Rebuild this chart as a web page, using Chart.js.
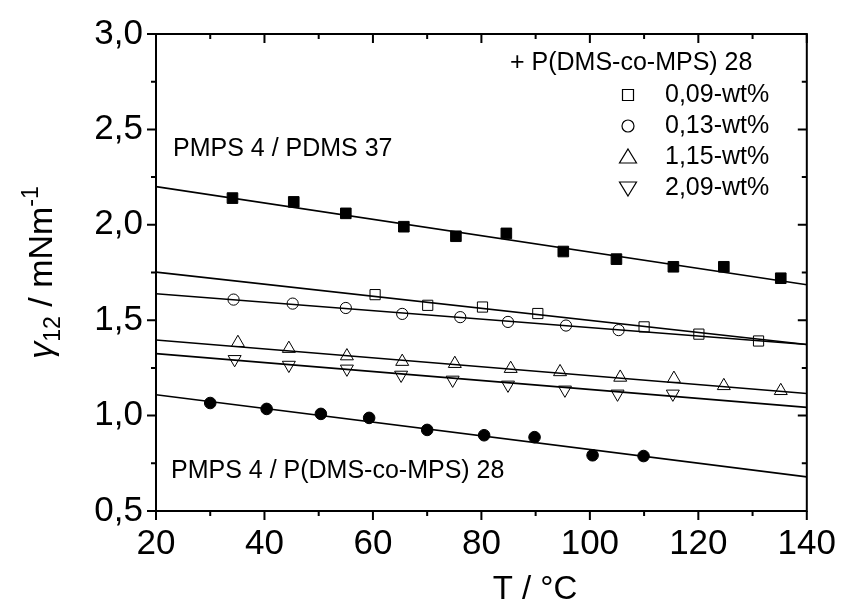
<!DOCTYPE html>
<html>
<head>
<meta charset="utf-8">
<script src="https://cdn.jsdelivr.net/npm/chart.js@4.4.0/dist/chart.umd.min.js"></script>
<style>
  html, body { margin: 0; padding: 0; background: #fff; }
  #caixa { width: 848px; height: 604px; }
</style>
</head>
<body>
<div id="caixa"><canvas id="grafico" width="848" height="604"></canvas></div>
<script>
// PMPS 4 / PDMS 37 (quadrados cheios)
const tempPdms37 = [34.1, 45.4, 55.0, 65.7, 75.3, 84.6, 95.1, 104.9, 115.4, 124.7, 135.2];
const gamaPdms37 = [2.14, 2.12, 2.06, 1.99, 1.94, 1.955, 1.86, 1.82, 1.78, 1.78, 1.72];

// + P(DMS-co-MPS) 28, 0,09-wt%
const temp009 = [60.4, 70.1, 80.2, 90.4, 110.0, 120.1, 131.1];
const gama009 = [1.634, 1.578, 1.569, 1.535, 1.465, 1.427, 1.391];

// 0,13-wt%
const temp013 = [34.3, 45.2, 55.0, 65.4, 76.1, 84.9, 95.6, 105.3];
const gama013 = [1.608, 1.587, 1.564, 1.533, 1.516, 1.491, 1.472, 1.448];

// 1,15-wt%
const temp115 = [35.1, 44.5, 55.2, 65.4, 75.1, 85.4, 94.5, 105.6, 115.5, 124.7, 135.2];
const gama115 = [1.382, 1.351, 1.312, 1.283, 1.272, 1.246, 1.229, 1.200, 1.194, 1.156, 1.130];

// 2,09-wt%
const temp209 = [34.5, 44.5, 55.2, 65.2, 74.7, 84.9, 95.4, 105.1, 115.3];
const gama209 = [1.295, 1.265, 1.245, 1.213, 1.187, 1.161, 1.135, 1.114, 1.114];

// PMPS 4 / P(DMS-co-MPS) 28 (círculos cheios)
const tempCopo = [30.0, 40.4, 50.4, 59.3, 70.0, 80.5, 89.8, 100.5, 109.9];
const gamaCopo = [1.066, 1.035, 1.009, 0.988, 0.925, 0.897, 0.887, 0.792, 0.788];

// retas de ajuste, valores em T = 20 e T = 140
const tempAjuste = [20, 140];
const ajustePdms37 = [2.200, 1.686];
const ajuste009 = [1.752, 1.373];
const ajuste013 = [1.639, 1.373];
const ajuste115 = [1.396, 1.116];
const ajuste209 = [1.325, 1.043];
const ajusteCopo = [1.109, 0.679];

const rotulosLegenda = ['0,09-wt%', '0,13-wt%', '1,15-wt%', '2,09-wt%'];

const FONTE = "'Liberation Sans', Arial, sans-serif";
Chart.defaults.color = '#000';
Chart.defaults.font.family = FONTE;

function pontos(xs, ys) {
  return xs.map((x, i) => ({ x, y: ys[i] }));
}

function reta(ys) {
  return {
    data: pontos(tempAjuste, ys),
    showLine: true,
    borderColor: '#000',
    borderWidth: 1.6,
    pointRadius: 0,
    pointHoverRadius: 0,
    fill: false
  };
}

function marcadores(xs, ys, estilo, cheio, raio, rotacao) {
  return {
    data: pontos(xs, ys),
    showLine: false,
    pointStyle: estilo,
    pointRadius: raio,
    pointHoverRadius: raio,
    pointRotation: rotacao || 0,
    pointBackgroundColor: cheio ? '#000' : '#fff',
    pointBorderColor: '#000',
    pointBorderWidth: 1
  };
}

// marcador desenhado à mão para a legenda
function desenharMarcador(ctx, tipo, x, y) {
  ctx.beginPath();
  if (tipo === 'quadrado') {
    ctx.rect(x - 5.5, y - 5.5, 11, 11);
  } else if (tipo === 'circulo') {
    ctx.arc(x, y, 6, 0, Math.PI * 2);
  } else if (tipo === 'triCima') {
    ctx.moveTo(x, y - 8);
    ctx.lineTo(x + 8.5, y + 6);
    ctx.lineTo(x - 8.5, y + 6);
    ctx.closePath();
  } else {
    ctx.moveTo(x, y + 8);
    ctx.lineTo(x + 8.5, y - 6);
    ctx.lineTo(x - 8.5, y - 6);
    ctx.closePath();
  }
  ctx.fillStyle = '#fff';
  ctx.fill();
  ctx.lineWidth = 1.2;
  ctx.strokeStyle = '#000';
  ctx.stroke();
}

const molduraEixos = {
  id: 'molduraEixos',
  afterDraw(chart) {
    const { ctx, chartArea: a, scales } = chart;
    ctx.save();
    ctx.strokeStyle = '#000';
    ctx.lineWidth = 2;
    ctx.strokeRect(a.left, a.top, a.right - a.left, a.bottom - a.top);

    // marcas dos eixos: esquerda e baixo para fora, topo e direita para dentro
    ctx.beginPath();
    scales.x.ticks.forEach(t => {
      const px = scales.x.getPixelForValue(t.value);
      const tam = t.value % 20 === 0 ? 9 : 5;
      ctx.moveTo(px, a.bottom); ctx.lineTo(px, a.bottom + tam);
      ctx.moveTo(px, a.top); ctx.lineTo(px, a.top + tam);
    });
    scales.y.ticks.forEach(t => {
      const py = scales.y.getPixelForValue(t.value);
      const tam = Math.abs(t.value * 2 - Math.round(t.value * 2)) < 1e-9 ? 9 : 5;
      ctx.moveTo(a.left, py); ctx.lineTo(a.left - tam, py);
      ctx.moveTo(a.right, py); ctx.lineTo(a.right - tam, py);
    });
    ctx.stroke();

    // título do eixo x
    ctx.fillStyle = '#000';
    ctx.textBaseline = 'middle';
    ctx.textAlign = 'center';
    ctx.font = '33px ' + FONTE;
    ctx.fillText('T / °C', 535, 590);

    // título do eixo y com índice e expoente
    const partes = [
      { t: 'γ', f: 'italic 34px ' + FONTE, dy: 0 },
      { t: '12', f: '23px ' + FONTE, dy: 8 },
      { t: ' / mNm', f: '34px ' + FONTE, dy: 0 },
      { t: '-1', f: '23px ' + FONTE, dy: -14 }
    ];
    let largura = 0;
    partes.forEach(p => { ctx.font = p.f; p.w = ctx.measureText(p.t).width; largura += p.w; });
    ctx.save();
    ctx.translate(52, (a.top + a.bottom) / 2);
    ctx.rotate(-Math.PI / 2);
    ctx.textAlign = 'left';
    ctx.textBaseline = 'alphabetic';
    let cx = -largura / 2;
    partes.forEach(p => { ctx.font = p.f; ctx.fillText(p.t, cx, p.dy); cx += p.w; });
    ctx.restore();

    // anotações das séries
    ctx.textAlign = 'left';
    ctx.font = '25px ' + FONTE;
    ctx.fillText('PMPS 4 / PDMS 37', 173, 149);
    ctx.fillText('PMPS 4 / P(DMS-co-MPS) 28', 171, 471);

    // legenda
    ctx.fillText('+ P(DMS-co-MPS) 28', 510, 63);
    const tipos = ['quadrado', 'circulo', 'triCima', 'triBaixo'];
    rotulosLegenda.forEach((r, i) => {
      const y = 95 + i * 31;
      desenharMarcador(ctx, tipos[i], 628, y);
      ctx.fillStyle = '#000';
      ctx.fillText(r, 665, y);
    });
    ctx.restore();
  }
};

const ctx = document.getElementById('grafico').getContext('2d');

new Chart(ctx, {
  type: 'scatter',
  data: {
    datasets: [
      reta(ajustePdms37),
      reta(ajuste009),
      reta(ajuste013),
      reta(ajuste115),
      reta(ajuste209),
      reta(ajusteCopo),
      marcadores(tempPdms37, gamaPdms37, 'rect', true, 7.5),
      marcadores(temp009, gama009, 'rect', false, 7.2),
      marcadores(temp013, gama013, 'circle', false, 5.6),
      marcadores(temp115, gama115, 'triangle', false, 7.5),
      marcadores(temp209, gama209, 'triangle', false, 7.5, 180),
      marcadores(tempCopo, gamaCopo, 'circle', true, 5.8)
    ]
  },
  options: {
    responsive: false,
    animation: false,
    events: [],
    layout: { padding: { left: 0, right: 36, top: 31, bottom: 0 } },
    plugins: {
      legend: { display: false },
      tooltip: { enabled: false }
    },
    scales: {
      x: {
        type: 'linear',
        min: 20,
        max: 140,
        grid: { display: false, drawTicks: false },
        border: { display: false },
        ticks: {
          stepSize: 10,
          autoSkip: false,
          maxRotation: 0,
          padding: 12,
          font: { size: 35 },
          callback: v => (v % 20 === 0 ? String(v) : '')
        },
        afterFit: s => { s.height = 93; }
      },
      y: {
        min: 0.5,
        max: 3.0,
        grid: { display: false, drawTicks: false },
        border: { display: false },
        ticks: {
          stepSize: 0.25,
          autoSkip: false,
          padding: 13,
          font: { size: 35 },
          callback: v => (Math.abs(v * 2 - Math.round(v * 2)) < 1e-9 ? v.toFixed(1).replace('.', ',') : '')
        },
        afterFit: s => { s.width = 156; }
      }
    }
  },
  plugins: [molduraEixos]
});
</script>
</body>
</html>
